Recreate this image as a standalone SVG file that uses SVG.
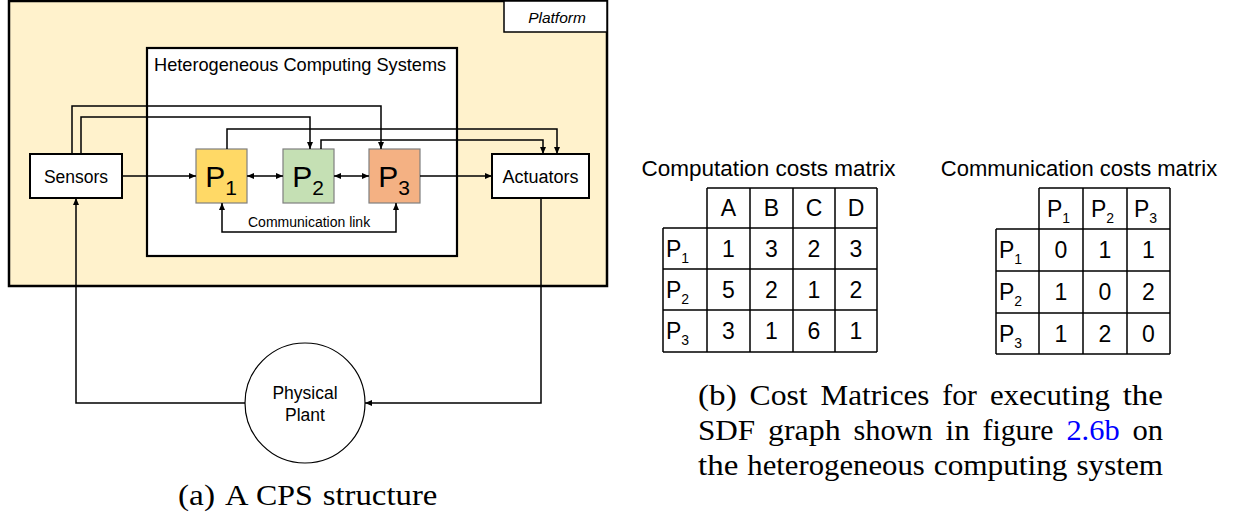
<svg xmlns="http://www.w3.org/2000/svg" width="1236" height="520" viewBox="0 0 1236 520">
<defs>
<marker id="arr" markerUnits="userSpaceOnUse" markerWidth="8" markerHeight="7" refX="7" refY="3" orient="auto-start-reverse" viewBox="0 0 8 6"><path d="M0,0 L7,3 L0,6 z" fill="#000"/></marker>
<style>
.sans{font-family:"Liberation Sans",Arial,sans-serif;fill:#000}
.serif{font-family:"Liberation Serif","Times New Roman",serif;fill:#000;font-size:29px}
.conn{fill:none;stroke:#000;stroke-width:1.5}
.grid{fill:none;stroke:#000;stroke-width:1.5}
.proc{stroke:#7f7f7f;stroke-width:1.2}
.cell{font-size:23px;text-anchor:middle}
</style>
</defs>
<rect width="1236" height="520" fill="#fff"/>
<g id="platform">
<rect x="9" y="1" width="598" height="285" fill="#fff2cc" stroke="#000" stroke-width="2.5"/>
<rect x="504" y="1" width="103" height="31" fill="#fff" stroke="#000" stroke-width="1.5"/>
<text class="sans" x="557" y="23" font-size="15.5" font-style="italic" text-anchor="middle">Platform</text>
</g>
<g id="hcs">
<rect x="147" y="48" width="310" height="208" fill="#fff" stroke="#000" stroke-width="2.2"/>
<text class="sans" x="154" y="71" font-size="18.2">Heterogeneous Computing Systems</text>
</g>
<g id="sensors">
<rect x="30" y="154" width="92" height="44" fill="#fff" stroke="#000" stroke-width="2"/>
<text class="sans" x="76" y="182.5" font-size="17.5" text-anchor="middle">Sensors</text>
</g>
<g id="actuators">
<rect x="492" y="154" width="97" height="44" fill="#fff" stroke="#000" stroke-width="2"/>
<text class="sans" x="540.5" y="182.5" font-size="18" text-anchor="middle">Actuators</text>
</g>
<g id="p1">
<rect class="proc" x="196" y="149" width="51" height="54" fill="#ffd966"/>
<text class="sans" x="221" y="187" font-size="30" text-anchor="middle">P<tspan font-size="21" dy="8">1</tspan></text>
</g>
<g id="p2">
<rect class="proc" x="283" y="149" width="51" height="54" fill="#c5e0b4"/>
<text class="sans" x="308" y="187" font-size="30" text-anchor="middle">P<tspan font-size="21" dy="8">2</tspan></text>
</g>
<g id="p3">
<rect class="proc" x="369" y="149" width="51" height="54" fill="#f4b183"/>
<text class="sans" x="394" y="187" font-size="30" text-anchor="middle">P<tspan font-size="21" dy="8">3</tspan></text>
</g>
<g id="plant">
<circle cx="305" cy="403" r="60" fill="#fff" stroke="#000" stroke-width="1.2"/>
<text class="sans" x="305" y="399" font-size="17.5" text-anchor="middle">Physical</text>
<text class="sans" x="305" y="421" font-size="17.5" text-anchor="middle">Plant</text>
</g>
<g id="connectors">
<path class="conn" d="M122,176 H196" marker-end="url(#arr)"/>
<path class="conn" d="M247,176 H283" marker-start="url(#arr)" marker-end="url(#arr)"/>
<path class="conn" d="M334,176 H369" marker-start="url(#arr)" marker-end="url(#arr)"/>
<path class="conn" d="M420,176 H492" marker-end="url(#arr)"/>
<path class="conn" d="M222,203 V232 H396 V203" marker-start="url(#arr)" marker-end="url(#arr)"/>
<path class="conn" d="M72,154 V106 H381 V149" marker-end="url(#arr)"/>
<path class="conn" d="M81,154 V117 H310 V149" marker-end="url(#arr)"/>
<path class="conn" d="M227,149 V129 H557 V154" marker-end="url(#arr)"/>
<path class="conn" d="M321,149 V140 H543 V154" marker-end="url(#arr)"/>
<path class="conn" d="M245,403 H76 V198" marker-end="url(#arr)"/>
<path class="conn" d="M541,198 V403 H365" marker-end="url(#arr)"/>
<text class="sans" x="248" y="227" font-size="14">Communication link</text>
</g>
<g id="computation-matrix">
<text class="sans" x="768.5" y="176" font-size="22.5" text-anchor="middle">Computation costs matrix</text>
<path class="grid" d="M707,188 H877 M663,228 H877 M663,269 H877 M663,310 H877 M663,352 H877 M663,228 V352 M707,188 V352 M750,188 V352 M793,188 V352 M835,188 V352 M877,188 V352"/>
<g class="sans cell">
<text x="728.5" y="216">A</text><text x="771.5" y="216">B</text><text x="814" y="216">C</text><text x="856" y="216">D</text>
<text x="728.5" y="257">1</text><text x="771.5" y="257">3</text><text x="814" y="257">2</text><text x="856" y="257">3</text>
<text x="728.5" y="298">5</text><text x="771.5" y="298">2</text><text x="814" y="298">1</text><text x="856" y="298">2</text>
<text x="728.5" y="339">3</text><text x="771.5" y="339">1</text><text x="814" y="339">6</text><text x="856" y="339">1</text>
</g>
<g class="sans" font-size="23">
<text x="666" y="257">P<tspan font-size="14" dy="6">1</tspan></text>
<text x="666" y="298">P<tspan font-size="14" dy="6">2</tspan></text>
<text x="666" y="339">P<tspan font-size="14" dy="6">3</tspan></text>
</g>
</g>
<g id="communication-matrix">
<text class="sans" x="1079" y="176" font-size="22" text-anchor="middle">Communication costs matrix</text>
<path class="grid" d="M1039,188 H1170 M996,229 H1170 M996,271 H1170 M996,313 H1170 M996,354 H1170 M996,229 V354 M1039,188 V354 M1083,188 V354 M1127,188 V354 M1170,188 V354"/>
<g class="sans" font-size="23">
<text x="1047" y="217">P<tspan font-size="14" dy="6">1</tspan></text>
<text x="1091" y="217">P<tspan font-size="14" dy="6">2</tspan></text>
<text x="1134" y="217">P<tspan font-size="14" dy="6">3</tspan></text>
<text x="999" y="258">P<tspan font-size="14" dy="6">1</tspan></text>
<text x="999" y="300">P<tspan font-size="14" dy="6">2</tspan></text>
<text x="999" y="342">P<tspan font-size="14" dy="6">3</tspan></text>
</g>
<g class="sans cell">
<text x="1061" y="258">0</text><text x="1105" y="258">1</text><text x="1148.5" y="258">1</text>
<text x="1061" y="300">1</text><text x="1105" y="300">0</text><text x="1148.5" y="300">2</text>
<text x="1061" y="342">1</text><text x="1105" y="342">2</text><text x="1148.5" y="342">0</text>
</g>
</g>
<g id="captions">
<text class="serif" y="505" lengthAdjust="spacingAndGlyphs"><tspan x="178" textLength="37" lengthAdjust="spacingAndGlyphs">(a)</tspan> <tspan x="225" textLength="21.7" lengthAdjust="spacingAndGlyphs">A</tspan> <tspan x="256" textLength="56.8" lengthAdjust="spacingAndGlyphs">CPS</tspan> <tspan x="322.7" textLength="114.7" lengthAdjust="spacingAndGlyphs">structure</tspan></text>
<text class="serif" y="405"><tspan x="698" textLength="38.7" lengthAdjust="spacingAndGlyphs">(b)</tspan> <tspan x="749.5" textLength="58.1" lengthAdjust="spacingAndGlyphs">Cost</tspan> <tspan x="820.5" textLength="109" lengthAdjust="spacingAndGlyphs">Matrices</tspan> <tspan x="942.3" textLength="34.7" lengthAdjust="spacingAndGlyphs">for</tspan> <tspan x="989.9" textLength="120" lengthAdjust="spacingAndGlyphs">executing</tspan> <tspan x="1122.7" textLength="40.3" lengthAdjust="spacingAndGlyphs">the</tspan></text>
<text class="serif" y="440"><tspan x="698" textLength="57.2" lengthAdjust="spacingAndGlyphs">SDF</tspan> <tspan x="768" textLength="72.6" lengthAdjust="spacingAndGlyphs">graph</tspan> <tspan x="853.5" textLength="79.1" lengthAdjust="spacingAndGlyphs">shown</tspan> <tspan x="945.5" textLength="24.2" lengthAdjust="spacingAndGlyphs">in</tspan> <tspan x="982.5" textLength="71" lengthAdjust="spacingAndGlyphs">figure</tspan> <tspan x="1066.4" textLength="53.2" lengthAdjust="spacingAndGlyphs" fill="#0000ff">2.6b</tspan> <tspan x="1132.4" textLength="30.6" lengthAdjust="spacingAndGlyphs">on</tspan></text>
<text class="serif" y="475"><tspan x="698" textLength="40.3" lengthAdjust="spacingAndGlyphs">the</tspan> <tspan x="747.3" textLength="177.5" lengthAdjust="spacingAndGlyphs">heterogeneous</tspan> <tspan x="933.8" textLength="133.7" lengthAdjust="spacingAndGlyphs">computing</tspan> <tspan x="1076.5" textLength="86.5" lengthAdjust="spacingAndGlyphs">system</tspan></text>
</g>
</svg>
